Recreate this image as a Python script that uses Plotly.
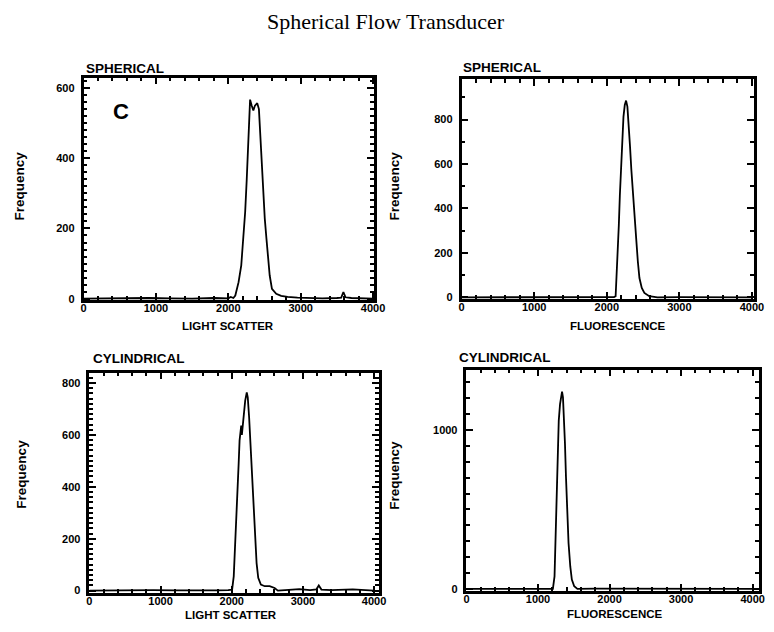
import plotly.graph_objects as go

# ---------------- data ----------------
title_text = "Spherical Flow Transducer"

# Top-left: SPHERICAL, light scatter
ls_sph_x = [0, 300, 600, 900, 1200, 1500, 1800, 2000, 2034, 2070, 2097, 2142, 2179, 2210, 2233,
            2255, 2269, 2287, 2292, 2301, 2323, 2346, 2368, 2400, 2423, 2436, 2459, 2481,
            2504, 2527, 2549, 2572, 2603, 2662, 2730, 2820, 2956, 3100, 3300, 3500, 3560,
            3590, 3620, 3700, 3900, 4000]
ls_sph_y = [0, 1, 0, 2, 1, 0, 2, 1, 5, 2, 9, 47, 95, 171, 247,
            341, 417, 512, 559, 567, 550, 536, 550, 557, 540, 493, 389, 294,
            228, 171, 114, 66, 28, 14, 8, 5, 3, 2, 1, 2, 3,
            19, 4, 2, 1, 0]

# Top-right: SPHERICAL, fluorescence
fl_sph_x = [0, 400, 800, 1200, 1600, 2000, 2100, 2122, 2135, 2149, 2166, 2180, 2194, 2212,
            2230, 2248, 2266, 2284, 2302, 2320, 2338, 2360, 2383, 2405, 2428, 2450,
            2482, 2518, 2585, 2698, 3000, 3400, 3800, 4000]
fl_sph_y = [0, 0, 1, 0, 1, 0, 1, 5, 87, 176, 324, 457, 576, 710,
            813, 865, 885, 858, 784, 680, 576, 487, 384, 265, 161, 87,
            42, 20, 5, 0, 1, 0, 1, 0]

# Bottom-left: CYLINDRICAL, light scatter
ls_cyl_x = [0, 300, 600, 900, 1200, 1500, 1800, 1950, 2005, 2028, 2051, 2073, 2097, 2110,
            2124, 2133, 2142, 2166, 2189, 2211, 2225, 2244, 2262, 2280, 2303, 2326,
            2349, 2372, 2409, 2464, 2533, 2602, 2648, 2800, 2950, 3100, 3190, 3223,
            3260, 3400, 3700, 4000]
ls_cyl_y = [0, 1, 0, 2, 1, 0, 1, 2, 4, 55, 183, 362, 489, 579,
            630, 636, 600, 668, 732, 764, 745, 668, 566, 451, 323, 196,
            106, 49, 23, 17, 17, 10, 0, 3, 6, 2, 5, 20,
            4, 2, 5, 0]

# Bottom-right: CYLINDRICAL, fluorescence
fl_cyl_x = [0, 400, 800, 1100, 1208, 1231, 1245, 1254, 1263, 1277, 1290, 1308, 1327, 1336,
            1349, 1363, 1377, 1391, 1409, 1427, 1451, 1473, 1506, 1551, 1800, 2200,
            2600, 3000, 3500, 4000]
fl_cyl_y = [0, 0, 1, 0, 0, 79, 287, 496, 704, 913, 1059, 1163, 1226, 1242,
            1205, 1080, 913, 704, 496, 287, 141, 58, 16, 0, 1, 0,
            1, 0, 1, 0]

x_ticks = [0, 1000, 2000, 3000, 4000]
x_tick_labels = ["0", "1000", "2000", "3000", "4000"]

panel_titles = ["SPHERICAL", "SPHERICAL", "CYLINDRICAL", "CYLINDRICAL"]
x_titles = ["LIGHT SCATTER", "FLUORESCENCE", "LIGHT SCATTER", "FLUORESCENCE"]
y_title = "Frequency"
panel_letter = "C"

# ---------------- styling / layout ----------------
SANS = "Liberation Sans, Arial, Helvetica, sans-serif"
SERIF = "Liberation Serif, Times New Roman, serif"

W, H = 774, 632


def px(x):
    return x / W


def py(y):
    return 1 - y / H


# panel boxes in page pixels: (left, right, top, bottom)
boxes = [(82, 378, 78, 302), (467, 765, 80, 301), (88, 383, 375, 597), (472, 770, 372, 595)]
x_ranges = [[0, 4015], [0, 4030], [0, 4070], [0, 4090]]
y_ranges = [[-4, 630], [-8, 980], [-10, 840], [-15, 1380]]
y_dticks = [200, 200, 200, 1000]
y_minor = [20, 100, 20, 100]

series = [(ls_sph_x, ls_sph_y), (fl_sph_x, fl_sph_y), (ls_cyl_x, ls_cyl_y), (fl_cyl_x, fl_cyl_y)]

fig = go.Figure()
layout = dict(
    width=W, height=H,
    margin=dict(l=0, r=0, t=0, b=0),
    paper_bgcolor="white", plot_bgcolor="white",
    showlegend=False,
)

tick_font = dict(family=SANS, size=11, color="black", weight="bold")
annotations = []
for i, ((xs, ys), (l, r, t, b)) in enumerate(zip(series, boxes)):
    n = "" if i == 0 else str(i + 1)
    fig.add_trace(go.Scatter(x=xs, y=ys, mode="lines",
                             line=dict(color="black", width=1.8),
                             xaxis="x" + n, yaxis="y" + n, hoverinfo="skip"))
    common = dict(showline=True, linecolor="black", linewidth=2.5, mirror="allticks",
                  ticks="inside", tickcolor="black", tickwidth=2, ticklen=7,
                  showgrid=False, zeroline=False, tickfont=tick_font)
    layout["xaxis" + n] = dict(
        common, domain=[px(l), px(r)], range=x_ranges[i], anchor="y" + n,
        tickvals=x_ticks, ticktext=x_tick_labels, ticklabelstandoff=-4,
        minor=dict(dtick=200, tick0=0, ticks="inside", ticklen=4, tickwidth=1.5,
                   tickcolor="black", showgrid=False),
    )
    layout["yaxis" + n] = dict(
        common, domain=[py(b), py(t)], range=y_ranges[i], anchor="x" + n,
        tick0=0, dtick=y_dticks[i], ticklabelstandoff=4,
        minor=dict(dtick=y_minor[i], tick0=0, ticks="inside", ticklen=4, tickwidth=1.5,
                   tickcolor="black", showgrid=False),
    )

# panel titles
title_pos = [(82, 69), (466, 68), (90, 361), (462, 360)]
for txt, (x0, y0) in zip(panel_titles, title_pos):
    annotations.append(dict(text=txt, x=px(x0), y=py(y0), xref="paper", yref="paper",
                            xanchor="left", yanchor="middle", showarrow=False,
                            font=dict(family=SANS, size=13.5, color="black", weight="bold")))
# x-axis titles
xt_pos = [(229, 328), (626, 328), (232, 619), (623, 618)]
for txt, (x0, y0) in zip(x_titles, xt_pos):
    annotations.append(dict(text=txt, x=px(x0), y=py(y0), xref="paper", yref="paper",
                            xanchor="center", yanchor="middle", showarrow=False,
                            font=dict(family=SANS, size=11.5, color="black", weight="bold")))
# y-axis titles
yt_pos = [(17, 187), (399, 187), (19, 477), (399, 478)]
for (x0, y0) in yt_pos:
    annotations.append(dict(text=y_title, x=px(x0), y=py(y0), xref="paper", yref="paper",
                            xanchor="center", yanchor="middle", showarrow=False, textangle=-90,
                            font=dict(family=SANS, size=13.5, color="black", weight="bold")))
# panel letter
annotations.append(dict(text=panel_letter, x=px(120), y=py(112), xref="paper", yref="paper",
                        xanchor="center", yanchor="middle", showarrow=False,
                        font=dict(family=SANS, size=22, color="black", weight="bold")))
# main title
annotations.append(dict(text=title_text, x=px(390), y=py(22), xref="paper", yref="paper",
                        xanchor="center", yanchor="middle", showarrow=False,
                        font=dict(family=SERIF, size=22, color="black")))

layout["annotations"] = annotations
fig.update_layout(**layout)
fig.write_html(
    "out.html",
    config={"displayModeBar": False},
    post_script="document.body.style.margin='0px';document.body.style.padding='0px';"
                "document.documentElement.style.overflow='hidden';",
)
